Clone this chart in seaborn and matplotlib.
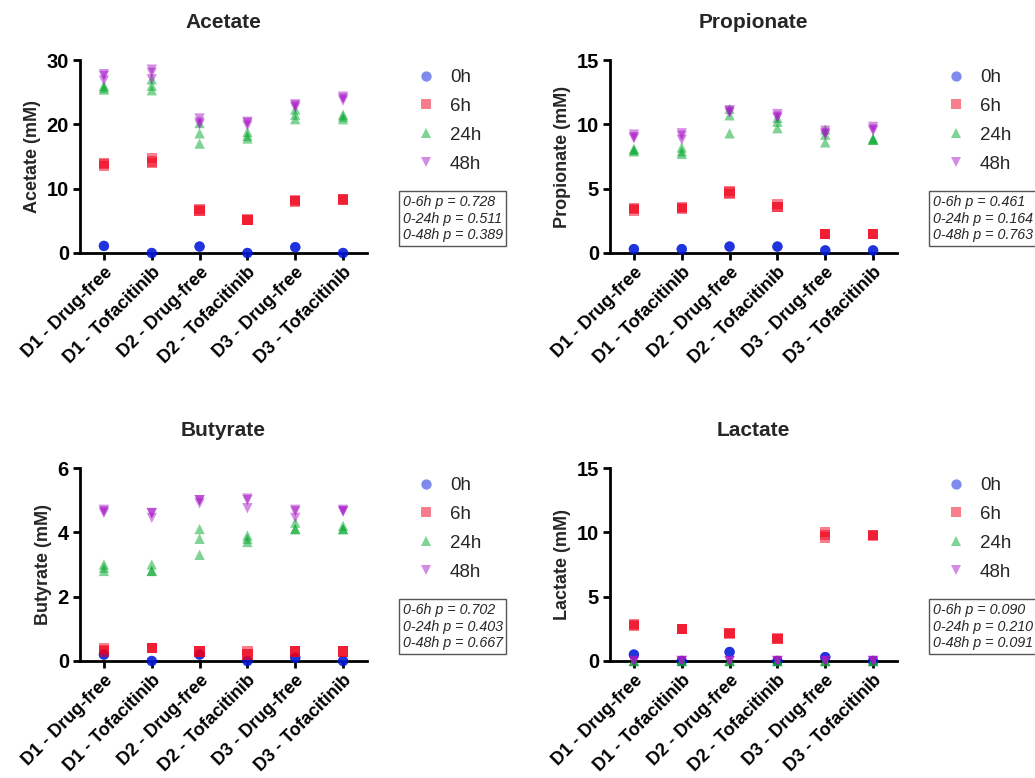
import numpy as np
import pandas as pd
import matplotlib
matplotlib.use("Agg")
import matplotlib.pyplot as plt
import seaborn as sns

# grupos y tiempos
groups = ["D1 - Drug-free", "D1 - Tofacitinib", "D2 - Drug-free",
          "D2 - Tofacitinib", "D3 - Drug-free", "D3 - Tofacitinib"]
times = ["0h", "6h", "24h", "48h"]

# valores (3 replicas por grupo)
acetate_0h = [[1.1, 1.1, 1.1], [0, 0, 0], [1.0, 1.0, 1.0], [0, 0, 0], [0.9, 0.9, 0.9], [0, 0, 0]]
acetate_6h = [[13.5, 14.0, 13.8], [14.0, 14.8, 14.2], [6.5, 6.8, 6.6], [5.1, 5.2, 5.1], [8.0, 8.2, 8.1], [8.3, 8.4, 8.2]]
acetate_24h = [[25.4, 26.0, 25.7], [25.3, 26.0, 27.0], [17.0, 18.6, 20.2], [17.8, 18.2, 18.8], [20.8, 21.5, 22.3], [20.8, 21.2, 21.5]]
acetate_48h = [[27.8, 26.8, 27.5], [28.5, 27.0, 28.0], [20.9, 20.0, 20.3], [20.4, 19.8, 20.2], [22.9, 23.1, 22.6], [24.3, 24.0, 23.7]]

propionate_0h = [[0.3, 0.3, 0.3], [0.3, 0.3, 0.3], [0.5, 0.5, 0.5], [0.5, 0.5, 0.5], [0.2, 0.2, 0.2], [0.2, 0.2, 0.2]]
propionate_6h = [[3.3, 3.5, 3.4], [3.4, 3.6, 3.5], [4.6, 4.8, 4.7], [3.6, 3.8, 3.6], [1.5, 1.5, 1.5], [1.5, 1.5, 1.5]]
propionate_24h = [[7.9, 8.0, 8.1], [7.7, 8.2, 7.9], [9.3, 10.7, 11.2], [9.7, 10.2, 10.5], [8.6, 9.2, 9.6], [8.8, 8.9, 8.8]]
propionate_48h = [[9.2, 8.9, 9.0], [9.3, 8.8, 9.1], [11.1, 10.9, 11.0], [10.8, 10.6, 10.5], [9.5, 9.3, 9.2], [9.8, 9.5, 9.6]]

butyrate_0h = [[0.2, 0.2, 0.2], [0, 0, 0], [0.2, 0.2, 0.2], [0, 0, 0], [0.1, 0.1, 0.1], [0, 0, 0]]
butyrate_6h = [[0.4, 0.3, 0.35], [0.4, 0.4, 0.4], [0.3, 0.3, 0.3], [0.3, 0.2, 0.2], [0.3, 0.3, 0.3], [0.3, 0.3, 0.3]]
butyrate_24h = [[2.8, 2.9, 3.0], [2.8, 2.8, 3.0], [3.3, 3.8, 4.1], [3.7, 3.8, 3.9], [4.1, 4.1, 4.3], [4.1, 4.2, 4.1]]
butyrate_48h = [[4.7, 4.6, 4.65], [4.6, 4.45, 4.6], [5.0, 4.9, 5.0], [5.05, 4.75, 5.0], [4.7, 4.45, 4.65], [4.7, 4.65, 4.65]]

lactate_0h = [[0.5, 0.5, 0.5], [0, 0, 0], [0.7, 0.7, 0.7], [0, 0, 0], [0.3, 0.3, 0.3], [0, 0, 0]]
lactate_6h = [[2.8, 2.7, 2.9], [2.5, 2.5, 2.5], [2.2, 2.1, 2.2], [1.7, 1.8, 1.7], [9.6, 10.0, 9.8], [9.7, 9.8, 9.8]]
lactate_24h = [[0, 0, 0], [0, 0, 0], [0, 0, 0], [0, 0, 0], [0, 0, 0], [0, 0, 0]]
lactate_48h = [[0, 0, 0], [0, 0, 0], [0, 0, 0], [0, 0, 0], [0, 0, 0], [0, 0, 0]]

pvals_acetate = ["0.728", "0.511", "0.389"]
pvals_propionate = ["0.461", "0.164", "0.763"]
pvals_butyrate = ["0.702", "0.403", "0.667"]
pvals_lactate = ["0.090", "0.210", "0.091"]

paneles = [
    ("Acetate", [acetate_0h, acetate_6h, acetate_24h, acetate_48h], 30, 10, pvals_acetate),
    ("Propionate", [propionate_0h, propionate_6h, propionate_24h, propionate_48h], 15, 5, pvals_propionate),
    ("Butyrate", [butyrate_0h, butyrate_6h, butyrate_24h, butyrate_48h], 6, 2, pvals_butyrate),
    ("Lactate", [lactate_0h, lactate_6h, lactate_24h, lactate_48h], 15, 5, pvals_lactate),
]

palette = {"0h": "#0018d8", "6h": "#f00018", "24h": "#00a82a", "48h": "#a818c8"}
markers = {"0h": "o", "6h": "s", "24h": "^", "48h": "v"}

sns.set_style("white")
plt.rcParams["font.family"] = ["Liberation Sans", "DejaVu Sans"]

fig = plt.figure(figsize=(10.35, 7.78), dpi=100)
W, H = 1035, 778
# posiciones en pixeles: (izquierda, arriba, ancho, alto)
cajas = [(80, 60, 287, 193), (610, 60, 287, 193), (80, 468, 287, 193), (610, 468, 287, 193)]

for (nombre, series, ymax, paso, pv), (x0, y0, w, h) in zip(paneles, cajas):
    ax = fig.add_axes([x0 / W, 1 - (y0 + h) / H, w / W, h / H])
    filas = []
    for t, serie in zip(times, series):
        for g, reps in zip(groups, serie):
            for v in reps:
                filas.append({"group": g, "time": t, "value": v})
    df = pd.DataFrame(filas)
    sns.scatterplot(data=df, x="group", y="value", hue="time", style="time",
                    hue_order=times, style_order=times, palette=palette,
                    markers=markers, s=55, alpha=0.5, edgecolor="none",
                    linewidth=0, ax=ax, legend=True)
    for col in ax.collections:
        col.set_clip_on(False)
        col.set_zorder(5)

    ax.set_xlim(-0.5, 5.5)
    ax.set_ylim(0, ymax)
    ax.set_yticks(np.arange(0, ymax + 0.01, paso))
    ax.set_xticks(range(len(groups)))
    ax.set_xticklabels(groups, rotation=45, ha="right", rotation_mode="anchor",
                       fontsize=13, fontweight="bold")
    for lab in ax.get_yticklabels():
        lab.set_fontsize(14.5)
        lab.set_fontweight("bold")
    ax.set_xlabel("")
    ax.set_ylabel(f"{nombre} (mM)", fontsize=13, fontweight="bold")
    ax.set_title(nombre, fontsize=15, fontweight="bold", pad=23)
    sns.despine(ax=ax)
    for s in ["left", "bottom"]:
        ax.spines[s].set_linewidth(2)
        ax.spines[s].set_color("black")
    ax.tick_params(axis="both", which="both", direction="out", length=5, width=2,
                   colors="black", left=True, bottom=True, pad=3)

    leg = ax.legend(loc="upper left", bbox_to_anchor=(1.08, 1.04), frameon=False,
                    fontsize=13.5, labelspacing=0.62, handletextpad=0.3, title=None)
    for hnd in leg.legend_handles:
        hnd.set_alpha(0.5)

    texto = f"0-6h p = {pv[0]}\n0-24h p = {pv[1]}\n0-48h p = {pv[2]}"
    ax.text(1.125, 0.055, texto, transform=ax.transAxes, fontsize=10.3,
            fontstyle="italic", va="bottom", ha="left", linespacing=1.25,
            bbox=dict(boxstyle="square,pad=0.25", facecolor="white",
                      edgecolor="#555555", linewidth=1))

fig.savefig("out.png", dpi=100)
